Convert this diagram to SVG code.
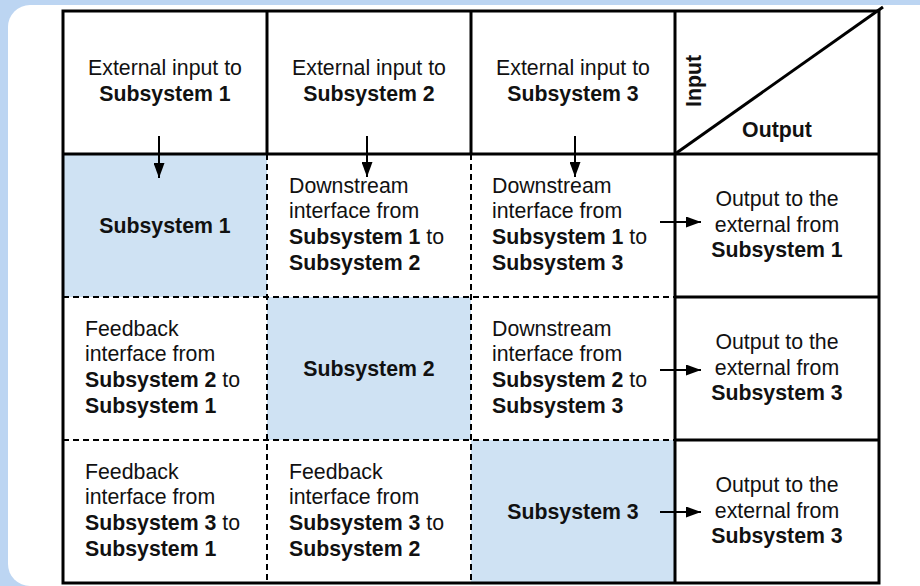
<svg xmlns="http://www.w3.org/2000/svg" width="920" height="586" viewBox="0 0 920 586">
<style>
text{font-family:"Liberation Sans",Arial,sans-serif;font-size:21.3px;fill:#111}
.b{font-weight:bold}
.c{text-anchor:middle}
.solid{stroke:#000;stroke-width:3;fill:none}
.dash{stroke:#000;stroke-width:2;stroke-dasharray:6 4;fill:none}
.fill{fill:#cfe2f3}
.arr{stroke:#000;stroke-width:2;fill:none;marker-end:url(#ah)}
</style>
<defs>
<marker id="ah" markerUnits="userSpaceOnUse" markerWidth="15" markerHeight="11" refX="15" refY="5.5" orient="auto">
<path d="M0,0 L15,5.5 L0,11 z" fill="#000"/>
</marker>
</defs>
<rect x="0" y="0" width="920" height="586" fill="#bcd5f2"/>
<rect x="8" y="5" width="940" height="581" rx="22" fill="#fff"/>
<g id="fills">
<rect class="fill" x="63" y="154" width="204" height="143"/>
<rect class="fill" x="267" y="297" width="204" height="143"/>
<rect class="fill" x="471" y="440" width="204" height="143"/>
</g>
<g id="grid">
<line class="dash" x1="267" y1="154" x2="267" y2="583"/>
<line class="dash" x1="471" y1="154" x2="471" y2="583"/>
<line class="dash" x1="63" y1="297" x2="675" y2="297"/>
<line class="dash" x1="63" y1="440" x2="675" y2="440"/>
<rect class="solid" x="63" y="11" width="816" height="572"/>
<line class="solid" x1="63" y1="154" x2="879" y2="154"/>
<line class="solid" x1="267" y1="11" x2="267" y2="154"/>
<line class="solid" x1="471" y1="11" x2="471" y2="154"/>
<line class="solid" x1="675" y1="11" x2="675" y2="583"/>
<line class="solid" x1="675" y1="297" x2="879" y2="297"/>
<line class="solid" x1="675" y1="440" x2="879" y2="440"/>
<line class="solid" x1="675" y1="154" x2="883" y2="7"/>
</g>
<g id="h1"><text class="c" x="165" y="74.5">External input to</text><text class="c b" x="165" y="100.5">Subsystem 1</text></g>
<g id="h2"><text class="c" x="369" y="74.5">External input to</text><text class="c b" x="369" y="100.5">Subsystem 2</text></g>
<g id="h3"><text class="c" x="573" y="74.5">External input to</text><text class="c b" x="573" y="100.5">Subsystem 3</text></g>
<g id="h4"><text class="b c" transform="translate(701,81) rotate(-90)">Input</text><text class="c b" x="777" y="137">Output</text></g>
<g id="s1"><text class="c b" x="165" y="233">Subsystem 1</text></g>
<g id="d12"><text x="289" y="192.5">Downstream</text><text x="289" y="218.2">interface from</text><text x="289" y="243.9"><tspan class="b">Subsystem 1</tspan> to</text><text class="b" x="289" y="269.6">Subsystem 2</text></g>
<g id="d13"><text x="492" y="192.5">Downstream</text><text x="492" y="218.2">interface from</text><text x="492" y="243.9"><tspan class="b">Subsystem 1</tspan> to</text><text class="b" x="492" y="269.6">Subsystem 3</text></g>
<g id="o1"><text class="c" x="777" y="206">Output to the</text><text class="c" x="777" y="231.5">external from</text><text class="c b" x="777" y="257">Subsystem 1</text></g>
<g id="f21"><text x="85" y="335.5">Feedback</text><text x="85" y="361.2">interface from</text><text x="85" y="386.9"><tspan class="b">Subsystem 2</tspan> to</text><text class="b" x="85" y="412.6">Subsystem 1</text></g>
<g id="s2"><text class="c b" x="369" y="376">Subsystem 2</text></g>
<g id="d23"><text x="492" y="335.5">Downstream</text><text x="492" y="361.2">interface from</text><text x="492" y="386.9"><tspan class="b">Subsystem 2</tspan> to</text><text class="b" x="492" y="412.6">Subsystem 3</text></g>
<g id="o2"><text class="c" x="777" y="349">Output to the</text><text class="c" x="777" y="374.5">external from</text><text class="c b" x="777" y="400">Subsystem 3</text></g>
<g id="f31"><text x="85" y="478.5">Feedback</text><text x="85" y="504.2">interface from</text><text x="85" y="529.9"><tspan class="b">Subsystem 3</tspan> to</text><text class="b" x="85" y="555.6">Subsystem 1</text></g>
<g id="f32"><text x="289" y="478.5">Feedback</text><text x="289" y="504.2">interface from</text><text x="289" y="529.9"><tspan class="b">Subsystem 3</tspan> to</text><text class="b" x="289" y="555.6">Subsystem 2</text></g>
<g id="s3"><text class="c b" x="573" y="519">Subsystem 3</text></g>
<g id="o3"><text class="c" x="777" y="492">Output to the</text><text class="c" x="777" y="517.5">external from</text><text class="c b" x="777" y="543">Subsystem 3</text></g>
<g id="connectors">
<line class="arr" x1="159" y1="136" x2="159" y2="178"/>
<line class="arr" x1="367" y1="136" x2="367" y2="177"/>
<line class="arr" x1="575" y1="136" x2="575" y2="177"/>
<line class="arr" x1="660" y1="222" x2="701" y2="222"/>
<line class="arr" x1="660" y1="370" x2="701" y2="370"/>
<line class="arr" x1="660" y1="512" x2="701" y2="512"/>
</g>
</svg>
